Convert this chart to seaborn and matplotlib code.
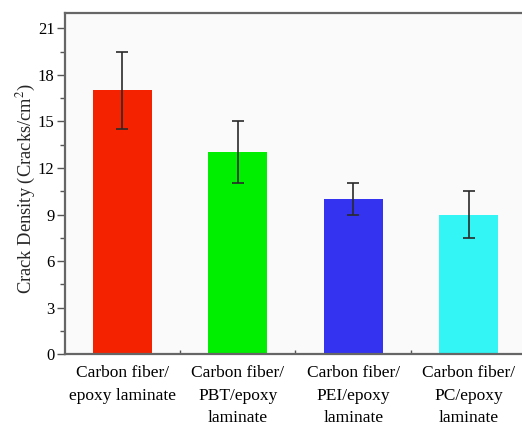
import matplotlib
matplotlib.use("Agg")
import matplotlib.pyplot as plt
from matplotlib.ticker import MultipleLocator, FixedLocator
import seaborn as sns
import pandas as pd

categories = [
    "Carbon fiber/\nepoxy laminate",
    "Carbon fiber/\nPBT/epoxy\nlaminate",
    "Carbon fiber/\nPEI/epoxy\nlaminate",
    "Carbon fiber/\nPC/epoxy\nlaminate",
]
crack_density = [17.0, 13.0, 10.0, 9.0]
error = [2.5, 2.0, 1.0, 1.5]
bar_colors = ["#F52200", "#00EE00", "#3333F0", "#33F5F5"]

sns.set_theme(style="ticks")
plt.rcParams["font.family"] = ["Liberation Serif", "DejaVu Serif"]
plt.rcParams["mathtext.fontset"] = "stix"

df = pd.DataFrame({"sample": categories, "density": crack_density})

fig = plt.figure(figsize=(5.22, 4.26), dpi=100)
fig.patch.set_facecolor("white")
ax = fig.add_axes([0.1245, 0.169, 0.884, 0.8005])
ax.set_facecolor("#FAFAFA")

sns.barplot(data=df, x="sample", y="density", hue="sample",
            palette=bar_colors, legend=False, width=0.51,
            saturation=1, edgecolor="none", ax=ax)

ax.errorbar(range(len(categories)), crack_density, yerr=error, fmt="none",
            ecolor="#2a2a2a", elinewidth=1.2, capsize=4, capthick=1.2)

ax.set_xlim(-0.495, 3.5)
ax.set_ylim(0, 22)
ax.yaxis.set_major_locator(MultipleLocator(3))
ax.yaxis.set_minor_locator(MultipleLocator(1.5))
ax.xaxis.set_minor_locator(FixedLocator([0.5, 1.5, 2.5]))

ax.tick_params(axis="y", which="major", direction="out", length=6, width=1,
               color="#555555", labelsize=12, pad=1.5, labelcolor="black")
ax.tick_params(axis="y", which="minor", direction="out", length=3.5, width=1,
               color="#555555")
ax.tick_params(axis="x", which="major", direction="in", length=5, width=1,
               color="#333333", labelsize=12.5, pad=8, labelcolor="black")
ax.tick_params(axis="x", which="minor", direction="in", length=3, width=1,
               color="#555555")
for lbl in ax.get_xticklabels():
    lbl.set_linespacing(1.55)

ax.set_xlabel("")
ax.set_ylabel("Crack Density (Cracks/cm$^2$)", fontsize=13.3)
ax.yaxis.set_label_coords(-0.058, 0.485)

for side in ["left", "bottom", "top"]:
    ax.spines[side].set_visible(True)
    ax.spines[side].set_color("#666666")
    ax.spines[side].set_linewidth(1.6)
ax.spines["right"].set_visible(False)

fig.savefig("out.png", dpi=100, facecolor="white")
